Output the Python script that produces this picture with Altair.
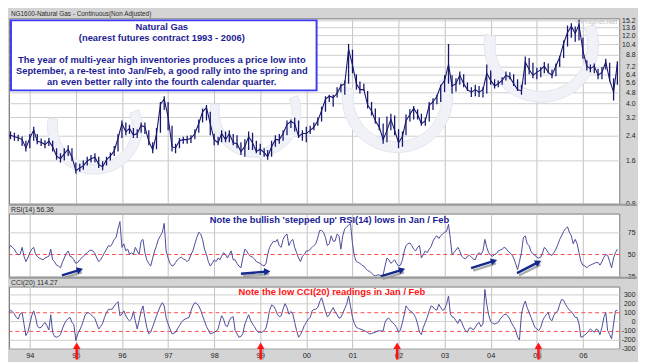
import math
import altair as alt
import pandas as pd

# ---------------- data ----------------
# monthly price bars, Jun 1993 .. Oct 2006
CLOSE = [
    2.18, 2.29, 2.41, 2.35, 2.31, 2.24, 1.96,
    2.29, 2.62, 2.18, 2.15, 2.07, 2.18, 2.00, 1.72, 1.65, 1.78, 1.92, 1.69,
    1.36, 1.42, 1.47, 1.59, 1.65, 1.69, 1.50, 1.45, 1.62, 1.72, 1.87, 2.29,
    2.90, 2.54, 2.68, 2.41, 2.47, 2.81, 2.75, 2.18, 1.90, 2.45, 3.94, 4.30,
    3.21, 2.00, 1.96, 2.20, 2.24, 2.24, 2.29, 2.47, 2.90, 3.50, 3.75, 2.90,
    2.24, 2.13, 2.47, 2.24, 2.47, 2.13, 2.10, 1.85, 2.00, 2.35, 2.13, 1.85,
    1.92, 1.82, 1.70, 2.00, 2.24, 2.24, 2.47, 2.85, 3.00, 2.90, 2.35, 2.47,
    2.47, 2.60, 2.74, 3.03, 3.56, 4.30, 4.50, 4.40, 4.70, 5.30, 5.50, 9.60,
    7.40, 5.50, 5.00, 5.00, 3.90, 3.56, 3.03, 2.74, 2.24, 2.60, 3.10, 2.60,
    2.13, 2.35, 3.03, 3.35, 3.70, 3.35, 2.90, 3.03, 3.90, 4.10, 4.50, 5.30,
    5.80, 7.50, 5.30, 5.50, 6.30, 5.50, 5.00, 4.80, 5.00, 4.80, 5.00, 6.50,
    5.80, 5.30, 5.50, 5.80, 6.30, 6.10, 5.50, 5.00, 4.90, 7.80, 6.90, 6.30,
    6.60, 6.90, 7.30, 6.60, 6.30, 7.30, 8.40, 10.5, 12.5, 13.8, 12.3, 14.2,
    9.30, 7.30, 7.00, 7.30, 6.30, 6.60, 7.80, 5.80, 4.80, 7.60,
]
HIGH = [
    2.30, 2.40, 2.55, 2.50, 2.42, 2.36, 2.20,
    2.45, 2.75, 2.45, 2.28, 2.22, 2.30, 2.20, 1.95, 1.80, 1.95, 2.05, 1.95,
    1.55, 1.52, 1.60, 1.70, 1.75, 1.80, 1.70, 1.58, 1.70, 1.82, 2.02, 2.45,
    3.05, 2.95, 2.85, 2.70, 2.65, 2.95, 2.95, 2.60, 2.15, 2.70, 4.10, 4.50,
    4.10, 2.80, 2.10, 2.30, 2.35, 2.38, 2.40, 2.65, 3.10, 3.70, 3.90, 3.50,
    2.45, 2.35, 2.60, 2.55, 2.60, 2.45, 2.40, 2.15, 2.25, 2.55, 2.50, 2.20,
    2.10, 1.95, 1.90, 2.20, 2.40, 2.45, 2.60, 3.05, 3.10, 3.20, 3.05, 2.60,
    2.75, 2.80, 2.95, 3.20, 3.80, 4.50, 4.60, 4.60, 5.20, 5.50, 5.80, 10.4,
    9.50, 6.40, 5.70, 5.50, 4.90, 4.10, 3.70, 3.20, 2.90, 3.25, 3.40, 3.30,
    2.65, 2.55, 3.35, 3.65, 3.85, 3.65, 3.40, 3.20, 4.10, 4.35, 4.60, 5.40,
    6.30, 10.4, 6.30, 6.00, 6.70, 6.40, 5.60, 5.20, 5.40, 5.30, 5.20, 7.50,
    6.80, 5.90, 5.80, 6.10, 6.70, 6.60, 6.40, 5.90, 5.40, 8.50, 8.30, 7.70,
    7.10, 7.20, 7.80, 7.60, 6.90, 7.60, 8.60, 11.0, 14.0, 14.5, 13.8, 15.4,
    11.5, 8.00, 7.50, 7.60, 7.00, 7.20, 8.20, 7.70, 6.00, 7.90,
]
LOW = [
    2.05, 2.12, 2.25, 2.20, 2.18, 2.02, 1.85,
    1.95, 2.20, 2.08, 2.02, 1.95, 2.02, 1.85, 1.62, 1.55, 1.60, 1.72, 1.58,
    1.30, 1.34, 1.38, 1.48, 1.55, 1.55, 1.42, 1.37, 1.48, 1.60, 1.72, 1.85,
    2.30, 2.40, 2.45, 2.30, 2.30, 2.50, 2.45, 2.05, 1.80, 1.92, 2.50, 3.60,
    2.60, 1.85, 1.80, 1.95, 2.10, 2.10, 2.12, 2.25, 2.50, 2.95, 3.05, 2.40,
    2.05, 2.05, 2.15, 2.15, 2.15, 2.05, 1.95, 1.75, 1.70, 1.90, 1.90, 1.80,
    1.75, 1.70, 1.62, 1.70, 2.00, 2.10, 2.20, 2.40, 2.70, 2.55, 2.30, 2.20,
    2.15, 2.45, 2.60, 2.80, 3.00, 3.50, 4.10, 3.80, 4.40, 4.80, 4.60, 5.50,
    6.50, 5.00, 4.70, 4.90, 3.70, 3.30, 2.90, 2.60, 2.10, 2.15, 2.60, 2.40,
    1.95, 2.00, 2.40, 3.00, 3.10, 3.10, 2.80, 2.80, 3.00, 3.60, 3.95, 4.10,
    4.80, 5.50, 4.70, 4.85, 5.40, 5.20, 4.90, 4.45, 4.50, 4.45, 4.40, 4.70,
    5.40, 5.10, 5.20, 5.40, 5.80, 5.90, 5.30, 4.90, 4.60, 5.40, 6.40, 6.00,
    5.90, 6.10, 6.50, 6.50, 6.00, 6.20, 7.20, 8.30, 10.0, 11.5, 10.8, 11.0,
    8.20, 6.80, 6.60, 6.50, 5.90, 5.90, 6.90, 5.70, 4.20, 5.40,
]
# half-monthly RSI(14), Jun 1993 .. Oct 2006
RSI = [
    50, 51, 52, 56, 60, 58, 56, 52, 50, 50, 58, 48, 42, 46,
    52, 56, 58, 50, 48, 46, 45, 44, 46, 47, 48, 56, 44, 42, 38, 37, 35, 41, 46, 51, 54, 48, 47, 44,
    40, 41, 44, 46, 48, 50, 52, 54, 55, 54, 51, 46, 42, 44, 48, 52, 56, 60, 59, 62, 67, 69, 79, 87,
    58, 62, 54, 56, 50, 52, 50, 58, 54, 50, 65, 67, 52, 44, 40, 37, 46, 54, 60, 67, 71, 75, 85, 54,
    46, 40, 37, 38, 41, 44, 46, 47, 45, 44, 42, 44, 50, 54, 62, 69, 75, 73, 67, 56, 50, 42, 37, 40,
    44, 42, 46, 44, 48, 52, 50, 46, 50, 54, 44, 44, 40, 37, 35, 46, 56, 54, 50, 48, 47, 45, 42, 41,
    40, 38, 37, 40, 50, 58, 62, 65, 64, 67, 60, 58, 67, 71, 73, 60, 65, 67, 58, 52, 46, 42, 48, 50,
    54, 54, 56, 58, 60, 62, 69, 77, 77, 75, 69, 60, 62, 71, 65, 65, 73, 71, 56, 71, 79, 81, 83, 85,
    62, 48, 42, 41, 40, 38, 37, 34, 32, 31, 29, 27, 26, 27, 27, 26, 27, 37, 46, 44, 40, 42, 44, 40,
    37, 38, 44, 54, 60, 62, 63, 60, 56, 54, 58, 60, 46, 50, 54, 52, 56, 59, 65, 69, 71, 68, 71, 73,
    75, 76, 84, 67, 50, 52, 55, 58, 54, 48, 46, 45, 48, 49, 47, 45, 44, 50, 52, 50, 54, 67, 58, 52,
    49, 48, 50, 51, 54, 55, 56, 58, 57, 54, 52, 50, 46, 40, 33, 42, 52, 69, 71, 62, 60, 53, 51, 49,
    47, 46, 47, 52, 58, 56, 52, 50, 49, 52, 56, 61, 67, 71, 76, 79, 81, 75, 71, 62, 67, 62, 52, 42,
    38, 37, 35, 37, 38, 39, 40, 41, 41, 38, 42, 47, 50, 49, 42, 35, 46, 52, 56,
]
# half-monthly CCI(20), Jun 1993 .. Oct 2006
CCI = [
    27, 9, 45, 89, 125, 111, 82, 45, 27, 82, 100, -27, -155, -118,
    -27, 64, 118, 45, -45, -71, -64, -35, -9, -45, -93, 75, -118, -165, -173, -165, -144, -82, -27, 9, 35, 45, -9, -35,
    -209, -136, -93, -45, 9, 75, 96, 96, 75, 56, 35, -27, -82, -56, -20, 45, 100, 133, 136, 136, 173, 198, 220, 64,
    82, 118, 64, 27, 9, 27, 111, 9, -82, 9, 118, 173, 45, -64, -136, -118, -56, 2, 64, 118, 173, 209, 173, 45,
    -27, -82, -136, -129, -118, -82, -45, -9, 16, 27, 38, 45, 118, 173, 209, 198, 173, 125, 64, 9, -56, -93, -136, -129,
    -118, -107, -82, 2, 64, 27, -45, -56, 9, 45, 53, -100, -136, -173, -165, -136, -27, 27, 75, 16, -27, -56, -93, -118,
    -118, -118, -100, -71, 9, 125, 184, 173, 136, 82, 53, 64, 136, 198, 155, 82, 111, 82, -9, -100, -173, -144, -100, -45,
    -9, 27, 45, 118, 133, 136, 155, 220, 264, 191, 111, 53, 75, 118, 155, 111, 75, 38, 45, 91, 145, 191, 282, 173,
    45, -20, -64, -75, -82, -89, -100, -107, -122, -136, -133, -125, -118, -107, -100, -107, -100, -9, 27, 38, 9, -13, -35, -64,
    -118, -93, -9, 82, 173, 145, 118, 107, 82, 45, -27, -118, -144, -64, -9, 45, 118, 173, 162, 136, 125, 191, 155, 125,
    136, 191, 282, 82, 53, 45, 9, -20, 27, -9, -64, -100, -118, -71, -71, -93, -64, -27, -9, -56, -27, 355, 191, 75,
    2, -20, -27, -20, -9, 27, 53, 75, 82, 60, 27, -20, -56, -93, -173, -202, 82, 173, 227, 155, 100, 45, -9, -64,
    -82, -100, -64, 9, 45, 75, 100, 27, 9, 71, 100, 118, 191, 245, 235, 191, 155, 125, 111, 82, 45, 45, -27, -173,
    -165, -148, -129, -100, -82, -100, -118, -82, -93, -144, -64, 45, 100, -100, -144, -191, -27, 118, 125,
]

PRICE_TICKS = [0.8, 1.6, 2.4, 3.2, 4.0, 4.8, 5.6, 6.4, 7.2, 8.8, 10.4, 12.0, 13.6, 15.2]
RSI_TICKS = [25, 50, 75]
CCI_TICKS = [-300, -200, -100, 0, 100, 200, 300]
RSI_DASH_TEST = "datum.value == 50"
CCI_DASH_TEST = "abs(datum.value) == 100"
YEARS = list(range(1994, 2007))

HEADER_MAIN = "NG1600-Natural Gas - Continuous(Non Adjusted)"
HEADER_RSI = "RSI(14) 56.36"
HEADER_CCI = "CCI(20) 114.27"
BOX_LINES = [
    "Natural  Gas",
    "(nearest futures contract 1993 - 2006)",
    "The year of multi-year high inventories produces a price low into",
    "September, a re-test into Jan/Feb, a good rally into the spring and",
    "an even better rally into the fourth calendar quarter.",
]
NOTE_RSI = "Note the bullish 'stepped up' RSI(14) lows in Jan / Feb"
NOTE_CCI = "Note the low CCI(20) readings in Jan / Feb"
WATERMARK = "\u00a9Prophet.Net"

# ---------------- layout / style ----------------
W = 619
H1, H2, H3 = 188, 64, 63
FONT = "Liberation Sans"
NAVY = "#17176f"
OSC = "#4b4b9c"
DASH_RED = "#ff4d4d"
TXT_BLUE = "#1d1d94"
BOX_BLUE = "#3c3cf2"
ARROW_BLUE = "#13298e"
ARROW_RED = "#ff1414"
GRID = "#cdcdcd"
BG = "#d4d4d4"

BOX_LINE_Y = [9, 20.2, 42.6, 53.8, 65]
BLUE_ARROWS = [(53.7, 62.7, 72, 57), (235.3, 61, 262, 58.7), (377, 63.7, 398.7, 57),
               (468.7, 55.3, 492, 48), (515.3, 60.3, 537, 49.3)]
RED_ARROW_X = [68.7, 255.3, 393.7, 537]
SWOOSHES = [(87, 110, 48, 38), (250, 95, 46, 37), (394, 80, 56, 45), (540, 27, 58, 47)]

months = pd.date_range("1993-06-01", periods=len(CLOSE), freq="MS")
price = pd.DataFrame({"date": months, "close": CLOSE, "high": HIGH, "low": LOW})
half = []
for d in months:
    half.append(d)
    half.append(d + pd.Timedelta(days=15))
half = half[:len(RSI)]
osc = pd.DataFrame({"date": half, "rsi": RSI, "cci": CCI})
one = pd.DataFrame({"k": [0]})

X_DOMAIN = [alt.DateTime(year=1993, month=7, date=20), alt.DateTime(year=2006, month=10, date=16)]
YEAR_TICKS = [alt.DateTime(year=y, month=1, date=1) for y in YEARS]


def xenc(show):
    return alt.X(
        "date:T",
        scale=alt.Scale(domain=X_DOMAIN),
        axis=alt.Axis(values=YEAR_TICKS, format="%y", labels=show, ticks=False, domain=False,
                      grid=True, gridColor="#c2c2c2", title=None, labelFontSize=7.5,
                      labelPadding=3, labelFlush=False, labelOverlap=False),
    )


def yaxis(values, fmt=None, expr=None, dash_test=None):
    kw = dict(orient="right", values=values, ticks=False, domain=False, grid=True,
              labelAlign="right", labelPadding=16, title=None,
              labelFontSize=7, labelFlush=False, labelOverlap=False)
    if dash_test:
        kw["gridColor"] = alt.condition(dash_test, alt.value(DASH_RED), alt.value(GRID))
        kw["gridDash"] = alt.condition(dash_test, alt.value([4, 3]), alt.value([]))
    else:
        kw["gridColor"] = GRID
    if fmt:
        kw["format"] = fmt
    if expr:
        kw["labelExpr"] = expr
    return alt.Axis(**kw)


def label(text, x, y, size=7, color="#2a2a2a", weight="normal", align="left"):
    return alt.Chart(one).mark_text(text=text, font=FONT, fontSize=size, color=color,
                                    fontWeight=weight, align=align, baseline="middle").encode(
        x=alt.value(x), y=alt.value(y))


# ---------------- main price panel ----------------
main_layers = []
for cx, cy, R, r in SWOOSHES:
    main_layers.append(alt.Chart(one).mark_arc(theta=1.2, theta2=4.9, radius=R, radius2=r,
                                               fill="#f0f2f8", stroke="#e3e6ef", strokeWidth=1).encode(
        x=alt.value(cx), y=alt.value(cy)))
main_layers.append(alt.Chart(one).mark_rect(fill="white", stroke=BOX_BLUE, strokeWidth=2).encode(
    x=alt.value(2), x2=alt.value(312), y=alt.value(2), y2=alt.value(73)))
main_layers.append(alt.Chart(price).mark_rule(color=NAVY, strokeWidth=1.3, clip=True).encode(
    x=xenc(False),
    y=alt.Y("low:Q", scale=alt.Scale(type="log", domain=[0.8, 15.7], nice=False),
            axis=yaxis(PRICE_TICKS, fmt=".1f")),
    y2="high:Q"))
main_layers.append(alt.Chart(price).mark_line(color=NAVY, strokeWidth=1.1, clip=True).encode(
    x="date:T", y="close:Q"))
for txt, yy in zip(BOX_LINES, BOX_LINE_Y):
    main_layers.append(label(txt, 155, yy, size=9.5, color=TXT_BLUE, weight="bold", align="center"))
main_layers.append(label(HEADER_MAIN, 2, -4, size=6.5))
main_layers.append(label(WATERMARK, 617, 4, size=7, color="#c4c4c4", align="right"))
main = alt.layer(*main_layers).properties(width=W, height=H1)

# ---------------- RSI panel ----------------
rsi_layers = [
    alt.Chart(osc).mark_line(color=OSC, strokeWidth=1, clip=True).encode(
        x=xenc(False),
        y=alt.Y("rsi:Q", scale=alt.Scale(domain=[25, 96], nice=False, zero=False),
                axis=yaxis(RSI_TICKS, dash_test=RSI_DASH_TEST))),
    alt.Chart(one).mark_rect(fill="#9a9a9a").encode(
        x=alt.value(0), x2=alt.value(W + 18), y=alt.value(-10), y2=alt.value(-8)),
]
for x1, y1, x2, y2 in BLUE_ARROWS:
    ang = math.degrees(math.atan2(y2 - y1, x2 - x1)) % 360
    rsi_layers.append(alt.Chart(one).mark_rule(color="#8a8a8a", strokeWidth=2.5, opacity=0.7).encode(
        x=alt.value(x1 + 2), y=alt.value(y1 + 2.5), x2=alt.value(x2 + 2), y2=alt.value(y2 + 2.5)))
    rsi_layers.append(alt.Chart(one).mark_rule(color=ARROW_BLUE, strokeWidth=2.5).encode(
        x=alt.value(x1), y=alt.value(y1), x2=alt.value(x2), y2=alt.value(y2)))
    rsi_layers.append(alt.Chart(one).mark_point(shape="triangle-right", filled=True, size=55,
                                                color=ARROW_BLUE, opacity=1).encode(
        x=alt.value(x2), y=alt.value(y2), angle=alt.value(ang)))
rsi_layers.append(label(NOTE_RSI, 325, 7, size=9.5, color=TXT_BLUE, weight="bold", align="center"))
rsi_layers.append(label(HEADER_RSI, 2, -4))
rsi = alt.layer(*rsi_layers).properties(width=W, height=H2)

# ---------------- CCI panel ----------------
cci_layers = [
    alt.Chart(osc).mark_line(color=OSC, strokeWidth=1, clip=True).encode(
        x=xenc(True),
        y=alt.Y("cci:Q", scale=alt.Scale(domain=[-300, 387], nice=False, zero=False),
                axis=yaxis(CCI_TICKS, expr="'' + datum.value", dash_test=CCI_DASH_TEST))),
    alt.Chart(one).mark_rect(fill="#9a9a9a").encode(
        x=alt.value(0), x2=alt.value(W + 18), y=alt.value(-10), y2=alt.value(-8)),
]
for ax in RED_ARROW_X:
    cci_layers.append(alt.Chart(one).mark_rule(color="#9a9a9a", strokeWidth=2.5, opacity=0.6).encode(
        x=alt.value(ax + 2), y=alt.value(63), x2=alt.value(ax + 2), y2=alt.value(74)))
    cci_layers.append(alt.Chart(one).mark_rule(color=ARROW_RED, strokeWidth=2.5).encode(
        x=alt.value(ax), y=alt.value(62), x2=alt.value(ax), y2=alt.value(74)))
    cci_layers.append(alt.Chart(one).mark_point(shape="triangle-up", filled=True, size=60,
                                                color=ARROW_RED, opacity=1).encode(
        x=alt.value(ax), y=alt.value(60)))
cci_layers.append(label(NOTE_CCI, 327.5, 6, size=9.5, color=ARROW_RED, weight="bold", align="center"))
cci_layers.append(label(HEADER_CCI, 2, -4))
cci = alt.layer(*cci_layers).properties(width=W, height=H3)

chart = alt.vconcat(main, rsi, cci, spacing=10, bounds="flush", padding=0, background=BG).configure_view(
    fill="white", stroke="#7d7d7d", strokeWidth=1
).configure_axis(labelFont=FONT, labelColor="#1e1e1e")

chart.save("out.html", embed_options={"renderer": "svg", "actions": False})
